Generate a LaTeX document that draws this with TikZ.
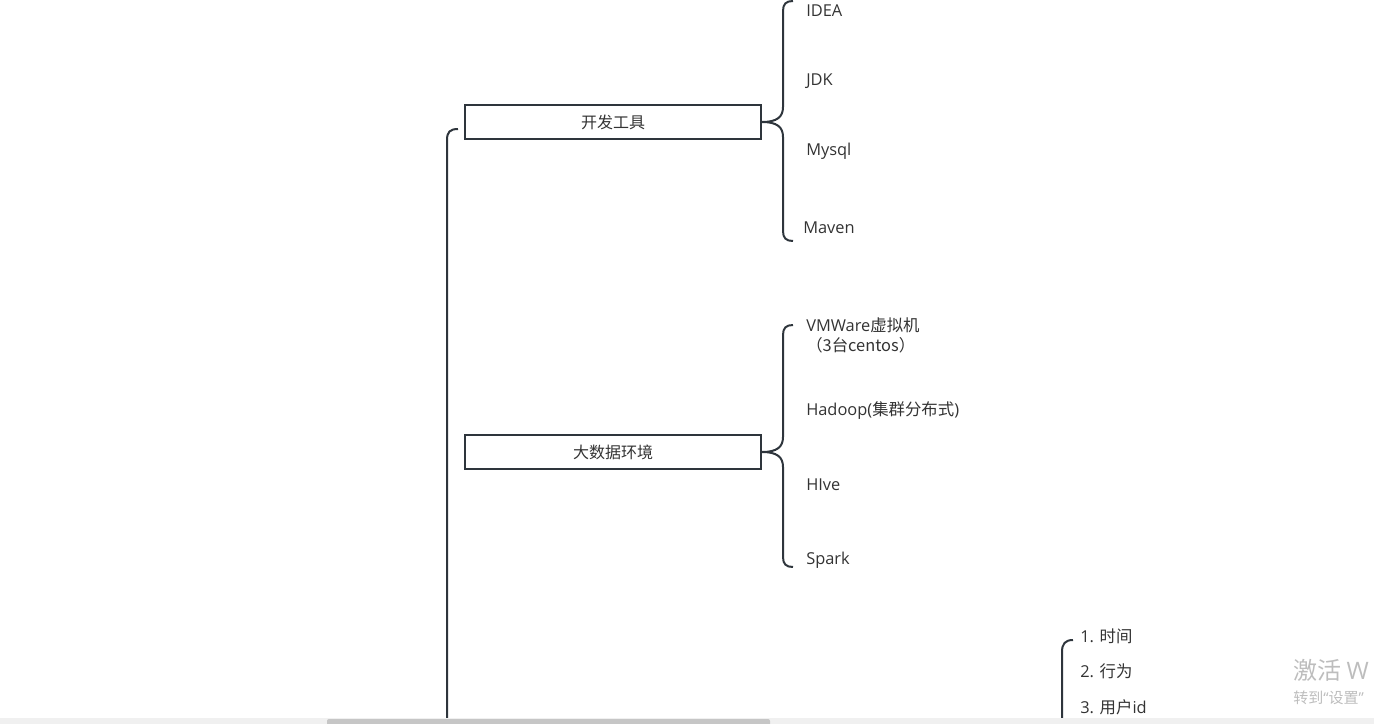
\documentclass[tikz,border=0pt]{standalone}
\usepackage{fontspec}
\setmainfont{Open Sans}
\newfontfamily\cjk{Noto Sans CJK SC}
\newcommand{\zh}[1]{{\cjk #1}}
\usepackage{tikz}
\usetikzlibrary{calc}
\definecolor{lineGray}{HTML}{2E353C}
\definecolor{textGray}{HTML}{333333}
\definecolor{markGray}{HTML}{BDBDBD}
\definecolor{barBack}{HTML}{F0F0F0}
\definecolor{barThumb}{HTML}{C6C6C6}

\begin{document}
\begin{tikzpicture}[x=0.75pt, y=-0.75pt,
    topic/.style={draw=lineGray, line width=1.5pt, minimum width=222pt, minimum height=25.5pt,
        inner sep=0pt, text=textGray, font={\cjk\fontsize{12}{14}\selectfont}},
    leaf/.style={anchor=base west, inner sep=0pt, text=textGray, font=\fontsize{12.3}{15}\selectfont},
    link/.style={draw=lineGray, line width=1.5pt},
    watermark/.style={anchor=base west, inner sep=0pt, text=markGray}]
    \useasboundingbox (0,0) rectangle (1374,724);

    \node[topic] (dev) at (613,122) {开发工具};
    \node[topic] (env) at (613,452) {大数据环境};

    \foreach \n/\x/\y/\t in {idea/806/17/IDEA, jdk/806/86/JDK, mysql/806/155/Mysql, maven/803/233/Maven,
            vm/806/331/{VMWare\zh{虚拟机}}, centos/806/351/{\zh{（3台centos）}},
            hadoop/806/415/{Hadoop(\zh{集群分布式})}, hive/806/490/HIve, spark/806/564/Spark,
            time/1080/642/{1. \zh{时间}}, act/1080/677/{2. \zh{行为}}, uid/1080/713/{3. \zh{用户}id}}
        \node[leaf] (\n) at (\x,\y) {\t};

    \coordinate (devtop) at (793,1);
    \coordinate (devbot) at (793,241);
    \coordinate (envtop) at (793,325);
    \coordinate (envbot) at (793,567);
    \coordinate (roottop) at (458,129);
    \coordinate (logtop) at (1073,640);

    \draw[link] (devtop) .. controls +(-7,0) and +(0,-7) .. (783,11) -- (783,107)
        .. controls +(0,10) and +(15,0) .. (dev.east)
        .. controls +(15,0) and +(0,-10) .. (783,137) -- (783,231)
        .. controls +(0,7) and +(-7,0) .. (devbot);
    \draw[link] (envtop) .. controls +(-7,0) and +(0,-7) .. (783,335) -- (783,437)
        .. controls +(0,10) and +(15,0) .. (env.east)
        .. controls +(15,0) and +(0,-10) .. (783,467) -- (783,557)
        .. controls +(0,7) and +(-7,0) .. (envbot);
    \draw[link] (roottop) .. controls +(-8,0) and +(0,-8) .. (447,140) -- (447,724);
    \draw[link] (logtop) .. controls +(-8,0) and +(0,-8) .. (1062,652) -- (1062,724);

    \node[watermark, font={\cjk\fontsize{18}{20}\selectfont}] (wm1) at (1293,679) {激活 \rmfamily W};
    \node[watermark, font={\cjk\fontsize{11.25}{13}\selectfont}] (wm2) at (1293,703) {转到\rmfamily“\cjk 设置\rmfamily”};

    \fill[barBack] (0,718) rectangle (1374,724);
    \fill[barThumb, rounded corners=1.5pt] (327,719) rectangle (770,726);
\end{tikzpicture}
\end{document}
